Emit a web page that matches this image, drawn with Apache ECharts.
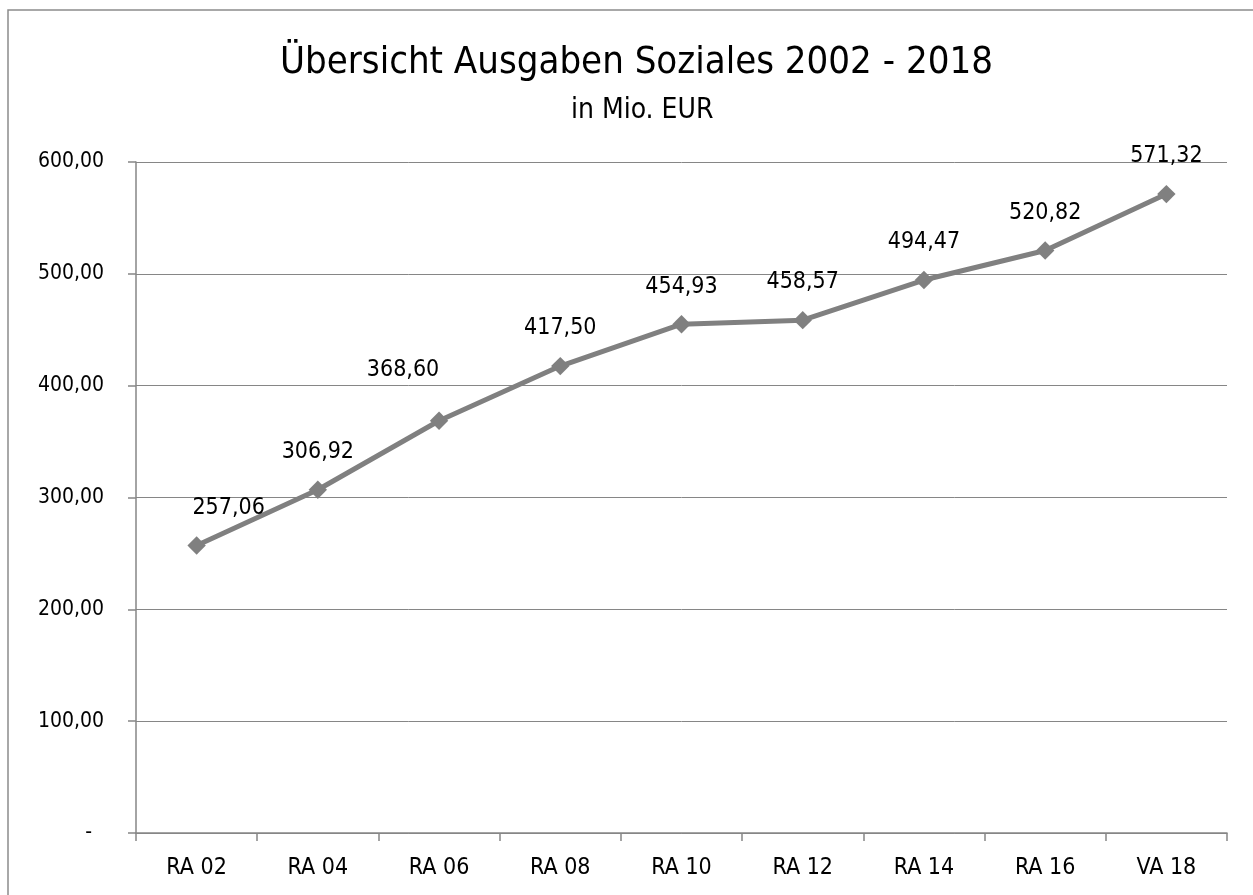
<!DOCTYPE html>
<html>
<head>
<meta charset="utf-8">
<script src="https://cdn.jsdelivr.net/npm/echarts@6/dist/echarts.min.js"></script>
<style>
  html, body { margin: 0; padding: 0; background: #fff; overflow: hidden; }
  #chart { width: 1253px; height: 895px; }
</style>
</head>
<body>
<div id="chart"></div>
<script>
var categories = ['RA 02', 'RA 04', 'RA 06', 'RA 08', 'RA 10', 'RA 12', 'RA 14', 'RA 16', 'VA 18']
var spending = [257.06, 306.92, 368.60, 417.50, 454.93, 458.57, 494.47, 520.82, 571.32]
var yTicks = [0, 100, 200, 300, 400, 500, 600]

var FONT = '"DejaVu Sans Condensed", "Noto Sans", sans-serif'
var GREY = '#808080'

// two labels were moved by hand in the original
var labelShift = { 0: [32, 0], 2: [-36, -13] }

function fmt(v) {
  if (v === 0) return '-  '
  return v.toFixed(2).replace('.', ',')
}

var chart = echarts.init(document.getElementById('chart'))

chart.setOption({
  animation: false,
  graphic: [
    {
      type: 'rect',
      z: -1,
      shape: { x: 8, y: 10, width: 1300, height: 1000 },
      style: { fill: 'none', stroke: '#8c8c8c', lineWidth: 1.5 }
    }
  ],
  title: [
    {
      text: 'Übersicht Ausgaben Soziales 2002 - 2018',
      left: 275,
      top: 39,
      textStyle: { fontFamily: FONT, fontSize: 38, fontWeight: 'normal', color: '#000' }
    },
    {
      text: 'in Mio. EUR',
      left: 566,
      top: 92,
      textStyle: { fontFamily: FONT, fontSize: 28, fontWeight: 'normal', color: '#000' }
    }
  ],
  grid: {
    left: 136,
    right: 26,
    top: 162,
    bottom: 62
  },
  xAxis: {
    type: 'category',
    boundaryGap: true,
    data: categories,
    axisLine: { lineStyle: { color: '#868686', width: 1.5 } },
    axisTick: { show: true, length: 8, lineStyle: { color: '#868686', width: 1.5 } },
    axisLabel: {
      interval: 0,
      margin: 24,
      fontFamily: FONT,
      fontSize: 23,
      color: '#000'
    }
  },
  yAxis: {
    type: 'value',
    min: yTicks[0],
    max: yTicks[yTicks.length - 1],
    interval: 100,
    axisLine: { show: true, lineStyle: { color: '#868686', width: 1.5 } },
    axisTick: { show: true, length: 8, lineStyle: { color: '#868686', width: 1.5 } },
    splitLine: { lineStyle: { color: '#868686', width: 1 } },
    axisLabel: {
      margin: 32,
      fontFamily: FONT,
      fontSize: 21,
      color: '#000',
      formatter: fmt
    }
  },
  series: [
    {
      type: 'line',
      data: spending.map(function (v, i) {
        var item = { value: v }
        if (labelShift[i]) item.label = { offset: labelShift[i] }
        return item
      }),
      lineStyle: { color: GREY, width: 5 },
      itemStyle: { color: GREY },
      symbol: 'rect',
      symbolSize: 13,
      symbolRotate: 45,
      label: {
        show: true,
        position: 'top',
        distance: 17,
        fontFamily: FONT,
        fontSize: 23,
        color: '#000',
        formatter: function (p) { return fmt(p.value) }
      }
    }
  ]
})

window.addEventListener('resize', function () {
  chart.resize()
})
</script>
</body>
</html>
